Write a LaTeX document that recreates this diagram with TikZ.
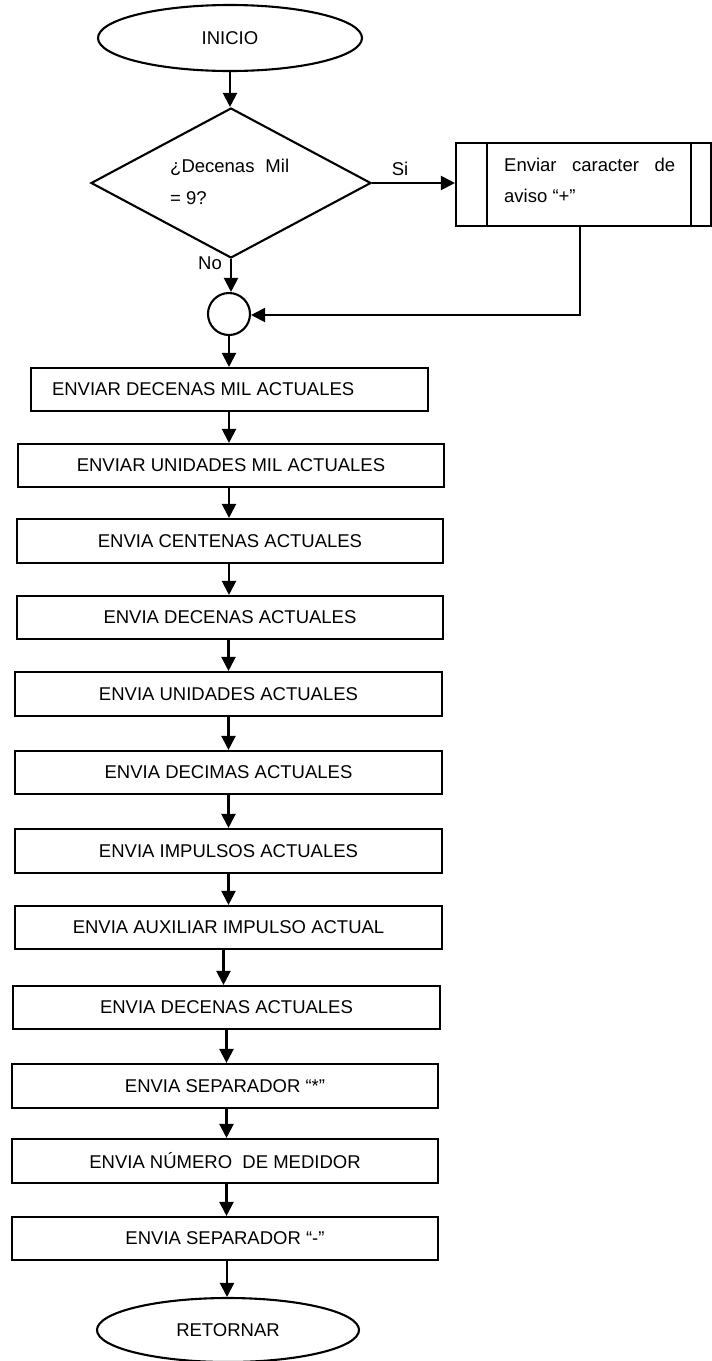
\documentclass[tikz,border=0pt]{standalone}
\usepackage{fontspec}
\setmainfont{Liberation Sans}
\usetikzlibrary{shapes.geometric,arrows.meta}
\begin{document}
\begin{tikzpicture}[x=1pt,y=-1pt,
  every node/.style={font=\fontsize{18.5}{22}\selectfont,inner sep=0pt},
  ln/.style={line width=2.1pt},
  arr/.style={ln,-{Triangle[width=14pt,length=14pt]}},
  term/.style={draw,ln,ellipse,minimum width=264pt,minimum height=66pt},
  proc/.style={draw,ln,rectangle,minimum height=43pt},
  lbl/.style={font=\fontsize{18.5}{31.5}\selectfont,align=left,anchor=west}]
\useasboundingbox (0,0) rectangle (712,1361);

\node[term] (ini) at (230,38) {INICIO};
\node[draw,ln,diamond,minimum width=280pt,minimum height=150pt,aspect=1.87] (dec) at (231,183) {};
\node[lbl] (dect) at (170,182) {¿Decenas\hspace{11pt}Mil\\= 9?};
\node[draw,ln,rectangle,minimum width=255pt,minimum height=83pt] (sub) at (583.5,184.5) {};
\draw[ln] ([xshift=32pt]sub.north west) -- ([xshift=32pt]sub.south west);
\draw[ln] ([xshift=-21pt]sub.north east) -- ([xshift=-21pt]sub.south east);
\node[lbl] (subt) at (504,180.5) {\makebox[171pt][s]{Enviar\hfill caracter\hfill de}\\aviso “+”};
\node (si) at (400,169) {Si};
\node (no) at (210,263) {No};
\node[draw,ln,circle,minimum size=42pt] (circ) at (229,314) {};
\coordinate (lp) at (580,315);

\node[proc,minimum width=397pt] (b1) at (229.5,389.5) {\makebox[397pt][l]{\hspace{21pt}ENVIAR DECENAS MIL ACTUALES}};
\node[proc,minimum width=426pt] (b2) at (231,465.5) {ENVIAR UNIDADES MIL ACTUALES};
\node[proc,minimum width=426pt,minimum height=44pt] (b3) at (230,541) {ENVIA CENTENAS ACTUALES};
\node[proc,minimum width=426pt] (b4) at (230,617.5) {ENVIA DECENAS ACTUALES};
\node[proc,minimum width=427pt,minimum height=44pt] (b5) at (228.5,694) {ENVIA UNIDADES ACTUALES};
\node[proc,minimum width=427pt] (b6) at (228.5,772.5) {ENVIA DECIMAS ACTUALES};
\node[proc,minimum width=427pt,minimum height=44pt] (b7) at (228.5,851) {ENVIA IMPULSOS ACTUALES};
\node[proc,minimum width=427pt] (b8) at (228.5,927.5) {ENVIA AUXILIAR IMPULSO ACTUAL};
\node[proc,minimum width=427pt] (b9) at (226.5,1007.5) {ENVIA DECENAS ACTUALES};
\node[proc,minimum width=426pt,minimum height=44pt] (b10) at (225,1086) {ENVIA SEPARADOR “*”};
\node[proc,minimum width=426pt,minimum height=44pt] (b11) at (225,1161) {ENVIA NÚMERO\ \ DE MEDIDOR};
\node[proc,minimum width=426pt] (b12) at (225,1238.5) {ENVIA SEPARADOR “-”};
\node[term,minimum width=262pt,minimum height=64pt] (fin) at (228,1330) {RETORNAR};

\draw[arr] (ini.south) -- (ini.south |- dec.north);
\draw[arr] (dec.east) -- (dec.east -| sub.west);
\draw[arr] (dec.south) -- (dec.south |- circ.north);
\draw[arr] (sub.south -| lp) -- (lp) -- (circ.east |- lp);
\draw[arr] (circ.south) -- (circ.south |- b1.north);
\draw[arr] (b1.south -| circ.south) -- (circ.south |- b2.north);
\draw[arr] (b2.south -| circ.south) -- (circ.south |- b3.north);
\draw[arr] (b3.south -| circ.south) -- (circ.south |- b4.north);
\draw[arr] (b4.south -| b5.south) -- (b5.north);
\draw[arr] (b5.south) -- (b6.north);
\draw[arr] (b6.south) -- (b7.north);
\draw[arr] (b7.south) -- (b8.north);
\draw[arr] ([xshift=-5pt]b8.south) -- ([xshift=-5pt]b8.south |- b9.north);
\draw[arr] (b9.south) -- (b9.south |- b10.north);
\draw[arr] (b10.south -| b9.south) -- (b9.south |- b11.north);
\draw[arr] (b11.south -| b9.south) -- (b9.south |- b12.north);
\draw[arr] ([xshift=2pt]b12.south) -- ([xshift=2pt]b12.south |- fin.north);
\end{tikzpicture}
\end{document}
